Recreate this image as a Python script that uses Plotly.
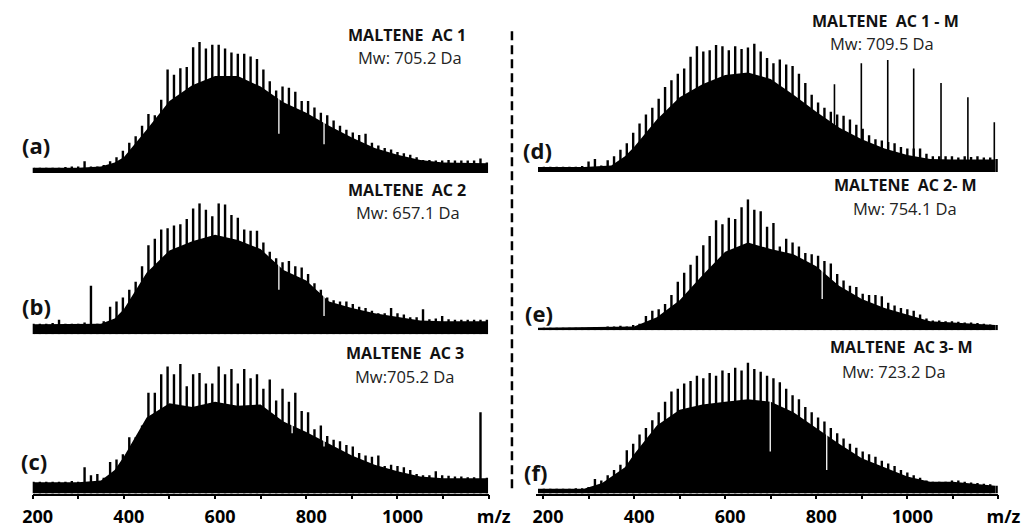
import plotly.graph_objects as go

W, H = 1033, 528

# CH2 homologue peaks, 14 Da apart (m/z 202 ... 1196)
PEAK_MZ = list(range(202, 1197, 14))

# relative intensity (%) of the homologue peaks
peaks_a = [4, 4, 4, 4, 4, 4.5, 5, 5, 9, 5, 5, 6, 9, 12, 17, 23, 28, 36, 45, 44,
           56, 79, 75, 80, 81, 96, 100, 95, 98, 98, 95, 92, 91, 91, 89, 87, 79, 70, 63, 66,
           65, 62, 55, 55, 50, 46, 44, 40, 36, 33, 31, 29, 30, 23, 21, 19, 18, 16, 15, 14,
           12, 10, 10, 9.5, 9.5, 10, 9.5, 9.5, 9.5, 9.5, 11, 8]
peaks_b = [8, 8, 8, 8.5, 11, 8, 8, 8, 9, 37, 8, 10, 21, 25, 28, 34, 40, 52, 68, 73,
           80, 81, 83, 84, 88, 96, 100, 95, 90, 100, 99, 91, 89, 80, 79, 79, 70, 63, 58, 55,
           56, 52, 51, 46, 39, 34, 28, 26, 25, 25, 23, 21, 20, 18, 16, 16, 20, 16, 15, 13,
           13, 19, 11.5, 12, 14, 11.5, 11, 11, 11, 11, 11, 11]
peaks_c = [9, 9, 9, 9, 9, 9, 9.5, 9, 20, 14, 15, 12, 24, 26, 30, 43, 43, 52, 77, 77,
           91, 97, 91, 99, 82, 91, 92, 84, 84, 97, 91, 95, 84, 95, 88, 91, 80, 87, 71, 80,
           70, 77, 63, 62, 49, 52, 44, 41, 40, 37, 36, 31, 29, 28, 29, 21, 22, 21, 20, 18,
           15, 14, 14, 17, 14, 13.5, 13, 13, 12.5, 12.5, 62, 12]
peaks_d = [4, 4, 4, 4, 4, 4, 4.5, 8, 10, 5, 9, 12, 17, 22, 30, 37, 44, 49, 56, 65,
           70, 75, 79, 88, 96, 92, 93, 97, 96, 93, 96, 94, 95, 98, 92, 87, 83, 86, 82, 81,
           75, 68, 59, 53, 49, 46, 44, 43, 40, 36, 33, 28, 25, 24, 23, 22, 19, 18, 18, 18,
           14, 12, 12, 12, 12, 11, 12, 11.5, 12, 11, 11, 10]
peaks_e = [2, 2, 2, 2, 2, 2, 2, 2, 2.5, 2.5, 3, 3, 3.5, 3, 4, 5, 11, 15, 16, 20,
           27, 37, 44, 50, 57, 65, 72, 84, 81, 86, 85, 94, 100, 92, 91, 79, 82, 64, 70, 67,
           64, 59, 58, 57, 53, 51, 43, 38, 34, 33, 28, 27, 27, 26, 21, 19, 17, 16, 15, 12,
           9, 7.5, 7.5, 7, 7, 6.5, 6, 6, 5.5, 5, 4.5, 4]
peaks_f = [3.7, 3.7, 3.7, 3.7, 3.7, 4, 4, 5, 11, 10, 14, 18, 22, 33, 38, 45, 50, 56, 62, 70,
           78, 80, 84, 86, 90, 88, 92, 90, 94, 92, 96, 94, 100, 95, 93, 90, 88, 85, 80, 75,
           72, 66, 62, 58, 55, 50, 46, 42, 38, 35, 32, 30, 28, 25, 23, 21, 18, 16, 14, 12,
           10, 9, 9, 9, 10, 10, 9, 8.5, 8, 7.5, 7, 6]

# unresolved background under the peaks (m/z, %)
body_a_mz = [203, 300, 350, 380, 400, 450, 500, 550, 600, 650, 700, 750, 800, 850, 900, 950, 1000, 1050, 1100, 1150, 1198]
body_a = [4, 4, 5, 8, 12, 33, 55, 67, 74, 74, 66, 54, 46, 36, 27, 19, 14, 10, 8, 7.5, 7.5]
body_b_mz = [203, 300, 350, 380, 400, 450, 500, 550, 600, 650, 700, 750, 800, 850, 900, 950, 1000, 1050, 1100, 1198]
body_b = [7.7, 7.7, 8, 12, 19, 47, 64, 71, 76, 72, 65, 49, 41, 25, 20, 16, 13, 10.5, 10, 10]
body_c_mz = [203, 300, 350, 380, 400, 450, 500, 550, 600, 650, 700, 750, 800, 850, 900, 950, 1000, 1050, 1100, 1198]
body_c = [8.7, 8.7, 10, 18, 28, 58, 69, 66, 70, 67, 68, 55, 47, 38, 29, 22, 17, 13, 11.7, 11.7]
body_d_mz = [189, 290, 350, 380, 400, 450, 500, 550, 600, 650, 700, 750, 800, 850, 900, 950, 1000, 1050, 1100, 1193]
body_d = [3.8, 3.8, 5, 12, 19, 40, 57, 67, 74, 76, 71, 59, 46, 34, 25, 18, 13, 10, 9.5, 9.5]
body_e_mz = [189, 350, 400, 450, 500, 550, 600, 650, 700, 750, 800, 850, 900, 950, 1000, 1050, 1100, 1150, 1193]
body_e = [2, 2.5, 3, 10, 23, 42, 60, 67, 62, 58, 49, 34, 24, 17, 12, 7, 6, 5, 4]
body_f_mz = [189, 290, 330, 380, 400, 450, 500, 550, 600, 650, 700, 750, 800, 850, 900, 950, 1000, 1050, 1100, 1193]
body_f = [3.7, 3.7, 8, 20, 30, 52, 64, 68, 70, 72, 70, 62, 50, 38, 27, 20, 13, 9, 9, 6]

# isolated series of sharp lines in AC 1 - M
spikes_d_mz = [840, 899, 957, 1014, 1074, 1133, 1191]
spikes_d = [67, 83, 85.5, 79, 68, 57, 38]

# narrow dips cutting through the envelope (m/z, lowest %)
gaps_a_mz, gaps_a = [740, 839], [30, 22]
gaps_b_mz, gaps_b = [740, 839], [34, 14]
gaps_c_mz, gaps_c = [769, 839], [46, 36]
gaps_d_mz, gaps_d = [], []
gaps_e_mz, gaps_e = [813], [24]
gaps_f_mz, gaps_f = [699, 823], [32, 18]

titles = ["MALTENE\u00a0 AC 1", "MALTENE\u00a0 AC 2", "MALTENE\u00a0 AC 3",
          "MALTENE\u00a0 AC 1 - M", "MALTENE\u00a0 AC 2- M", "MALTENE\u00a0 AC 3- M"]
mw_labels = ["Mw: 705.2 Da", "Mw: 657.1 Da", "Mw:705.2 Da",
             "Mw: 709.5 Da", "Mw: 754.1 Da", "Mw: 723.2 Da"]
panel_tags = ["(a)", "(b)", "(c)", "(d)", "(e)", "(f)"]
tick_vals = [200, 300, 400, 500, 600, 700, 800, 900, 1000, 1100, 1200]
tick_text = ["200", "", "400", "", "600", "", "800", "", "1000", "", "m/z"]


def px(x):
    return x / W


def py(y):
    return (H - y) / H


# panel geometry in pixels: x-domain, baseline, x-range
COLS = [dict(x0=23.3, x1=494, rng=[200, 1200]),
        dict(x0=543, x1=1020, rng=[185, 1200])]
BASE = [[177, 342, 505], [176, 338, 505]]
PANEL_H = 134

panels = [
    (peaks_a, body_a_mz, body_a, gaps_a_mz, gaps_a),
    (peaks_b, body_b_mz, body_b, gaps_b_mz, gaps_b),
    (peaks_c, body_c_mz, body_c, gaps_c_mz, gaps_c),
    (peaks_d, body_d_mz, body_d, gaps_d_mz, gaps_d),
    (peaks_e, body_e_mz, body_e, gaps_e_mz, gaps_e),
    (peaks_f, body_f_mz, body_f, gaps_f_mz, gaps_f),
]

fig = go.Figure()
layout = {}


def sticks(xs, lo, hi):
    sx, sy = [], []
    for x, a, b in zip(xs, lo, hi):
        sx += [x, x, None]
        sy += [a, b, None]
    return sx, sy


for i, (pk, bmz, bh, gmz, gl) in enumerate(panels):
    col, row = divmod(i, 3)
    c = COLS[col]
    base = BASE[col][row]
    n = i + 1
    xa, ya = f"x{n}", f"y{n}"
    xkey, ykey = ("xaxis" if n == 1 else f"xaxis{n}"), ("yaxis" if n == 1 else f"yaxis{n}")
    bottom = row == 2
    layout[xkey] = dict(
        domain=[px(c["x0"]), px(c["x1"])], range=c["rng"], anchor=ya,
        showgrid=False, zeroline=False,
        showline=bottom, linecolor="black", linewidth=1.5,
        ticks="outside" if bottom else "", ticklen=4, tickwidth=1.5, tickcolor="black",
        tickvals=tick_vals, ticktext=tick_text, showticklabels=bottom,
        ticklabelshift=5, ticklabelstandoff=2,
        tickfont=dict(family="Open Sans", size=18, color="black", weight="bold"),
    )
    layout[ykey] = dict(
        domain=[py(base), py(base - PANEL_H)], range=[0, 100], anchor=xa,
        visible=False, fixedrange=True,
    )
    # unresolved background
    fig.add_trace(go.Scatter(x=bmz, y=bh, mode="lines", fill="tozeroy",
                             line=dict(width=0, color="black"), fillcolor="black",
                             xaxis=xa, yaxis=ya, hoverinfo="skip"))
    # dips
    if gmz:
        gx, gy = sticks(gmz, gl, [100] * len(gl))
        fig.add_trace(go.Scatter(x=gx, y=gy, mode="lines",
                                 line=dict(width=1.3, color="white"),
                                 xaxis=xa, yaxis=ya, hoverinfo="skip"))
    # homologue peaks
    sx, sy = sticks(PEAK_MZ, [0] * len(pk), pk)
    fig.add_trace(go.Scatter(x=sx, y=sy, mode="lines",
                             line=dict(width=2.4, color="black"),
                             xaxis=xa, yaxis=ya, hoverinfo="skip"))
    if n == 4:
        sx, sy = sticks(spikes_d_mz, [0] * len(spikes_d), spikes_d)
        fig.add_trace(go.Scatter(x=sx, y=sy, mode="lines",
                                 line=dict(width=1.6, color="black"),
                                 xaxis=xa, yaxis=ya, hoverinfo="skip"))

# text positions in pixels
title_pos = [(410, 36), (410, 194), (408, 361), (903, 21), (924, 189), (920, 355)]
mw_pos = [(413, 59), (411, 217), (407, 385), (900, 45), (924, 213), (912, 380)]
tag_pos = [(27, 148), (27, 313), (25, 472), (544, 153), (546, 320), (542, 483)]

ann = []
for t, (x, y) in zip(titles, title_pos):
    ann.append(dict(text=t, x=px(x), y=py(y), xref="paper", yref="paper",
                    xanchor="center", yanchor="middle", showarrow=False,
                    font=dict(family="Open Sans", size=16, color="#111", weight="bold")))
for t, (x, y) in zip(mw_labels, mw_pos):
    ann.append(dict(text=t, x=px(x), y=py(y), xref="paper", yref="paper",
                    xanchor="center", yanchor="middle", showarrow=False,
                    font=dict(family="Open Sans", size=16.5, color="#222")))
for t, (x, y) in zip(panel_tags, tag_pos):
    ann.append(dict(text=t, x=px(x), y=py(y), xref="paper", yref="paper",
                    xanchor="center", yanchor="middle", showarrow=False,
                    font=dict(family="Open Sans", size=22, color="#111", weight="bold")))

fig.update_layout(
    width=W, height=H, margin=dict(l=0, r=0, t=0, b=0),
    paper_bgcolor="white", plot_bgcolor="rgba(0,0,0,0)",
    showlegend=False, annotations=ann,
    shapes=[dict(type="line", xref="paper", yref="paper",
                 x0=px(518), x1=px(518), y0=py(32), y1=py(503),
                 line=dict(color="black", width=2.5, dash="9px,5px"))],
    **layout,
)

fig.write_html("out.html")
